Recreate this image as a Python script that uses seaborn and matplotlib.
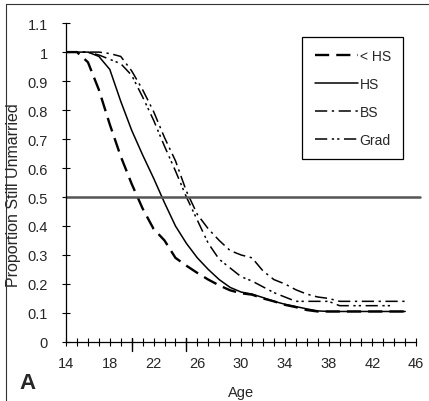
import pandas as pd
import matplotlib.pyplot as plt
import matplotlib.transforms as mtransforms
from matplotlib.lines import Line2D
import seaborn as sns

# proportion still unmarried by age, per education group
ages = list(range(14, 46))
lt_hs = [1.0, 1.0, 0.965, 0.87, 0.75, 0.64, 0.545, 0.46, 0.39, 0.35, 0.29, 0.263,
         0.238, 0.215, 0.195, 0.178, 0.168, 0.163, 0.15, 0.14, 0.128, 0.12, 0.11,
         0.105, 0.105, 0.105, 0.105, 0.105, 0.105, 0.105, 0.105, 0.105]
hs = [1.0, 1.0, 1.0, 0.985, 0.94, 0.83, 0.73, 0.645, 0.565, 0.48, 0.40, 0.34,
      0.29, 0.25, 0.215, 0.188, 0.172, 0.165, 0.153, 0.14, 0.13, 0.122, 0.114,
      0.107, 0.105, 0.105, 0.105, 0.105, 0.105, 0.105, 0.105, 0.105]
bs = [1.0, 1.0, 1.0, 1.0, 0.995, 0.985, 0.935, 0.87, 0.795, 0.705, 0.625, 0.52,
      0.44, 0.39, 0.35, 0.315, 0.30, 0.29, 0.245, 0.215, 0.20, 0.18, 0.165,
      0.155, 0.15, 0.14, 0.14, 0.14, 0.14, 0.14, 0.14, 0.14]
grad_ages = list(range(14, 45))
grad = [1.0, 1.0, 1.0, 0.99, 0.975, 0.96, 0.92, 0.845, 0.765, 0.675, 0.59, 0.5,
        0.42, 0.34, 0.285, 0.255, 0.225, 0.21, 0.19, 0.17, 0.155, 0.14, 0.14,
        0.14, 0.14, 0.125, 0.125, 0.125, 0.125, 0.125, 0.125]

labels = ['< HS', 'HS', 'BS', 'Grad']
styles = {'< HS': ((6, 3), 1.7), 'HS': ('', 1.1),
          'BS': ((8, 3, 1.5, 3), 1.1), 'Grad': ((8, 3, 1.5, 2, 1.5, 3), 1.1)}

df = pd.concat([
    pd.DataFrame({'Age': ages, 'Prop': lt_hs, 'Group': '< HS'}),
    pd.DataFrame({'Age': ages, 'Prop': hs, 'Group': 'HS'}),
    pd.DataFrame({'Age': ages, 'Prop': bs, 'Group': 'BS'}),
    pd.DataFrame({'Age': grad_ages, 'Prop': grad, 'Group': 'Grad'}),
])

sns.set_style('white')
plt.rcParams['font.family'] = ['Liberation Sans', 'DejaVu Sans']

fig = plt.figure(figsize=(4.29, 4.02), dpi=100)
ax = fig.add_axes([0.154, 0.147, 0.816, 0.793])

handles = []
for g in labels:
    dash, lw = styles[g]
    sub = df[df['Group'] == g]
    sns.lineplot(data=sub, x='Age', y='Prop', color='black', linewidth=lw, ax=ax)
    line = ax.lines[-1]
    if dash:
        line.set_dashes(dash)
    handles.append(Line2D([], [], color='black', linewidth=lw,
                          dashes=dash if dash else (None, None), label=g))

ax.axhline(0.5, xmin=0, xmax=1.012, color='#555555', linewidth=1.8, clip_on=False)

ax.set_xlim(14, 46)
ax.set_ylim(0, 1.1)
ax.set_xticks(range(14, 47, 4))
ax.set_xticks(range(14, 47), minor=True)
ax.set_yticks([i / 10 for i in range(12)])
ax.set_yticklabels(['0', '0.1', '0.2', '0.3', '0.4', '0.5', '0.6', '0.7', '0.8', '0.9', '1', '1.1'])
ax.tick_params(axis='both', which='both', direction='inout', length=6, width=0.8,
               labelsize=10.5, color='black', bottom=True, left=True)
ax.tick_params(axis='x', pad=7)
ax.tick_params(axis='y', pad=10)

# two longer reference ticks on the age axis
trans = mtransforms.blended_transform_factory(ax.transData, ax.transAxes)
for a in (20, 25):
    ax.plot([a, a], [-0.03, 0.012], color='black', linewidth=1.0, transform=trans, clip_on=False)

for s in ['top', 'right']:
    ax.spines[s].set_visible(False)
for s in ['left', 'bottom']:
    ax.spines[s].set_color('black')
    ax.spines[s].set_linewidth(0.9)

ax.set_xlabel('Age', fontsize=10.5, labelpad=11)
ax.set_ylabel('Proportion Still Unmarried', fontsize=11.5)
ax.yaxis.set_label_coords(-0.128, 0.465)

leg = ax.legend(handles=handles, loc='upper left', bbox_to_anchor=(0.674, 0.957),
                frameon=True, fancybox=False, edgecolor='black', framealpha=1,
                fontsize=10, handlelength=3.1, handletextpad=0.15, labelspacing=1.0,
                borderpad=0.9, borderaxespad=0)
leg.get_frame().set_linewidth(0.9)

fig.text(0.065, 0.047, 'A', fontsize=16, fontweight='bold', ha='center', va='center')
fig.add_artist(Line2D([0.013, 0.013], [0.0, 0.988], color='#333333', linewidth=0.8))
fig.add_artist(Line2D([0.013, 1.0], [0.988, 0.988], color='#333333', linewidth=0.8))

fig.savefig('out.png', dpi=100)
